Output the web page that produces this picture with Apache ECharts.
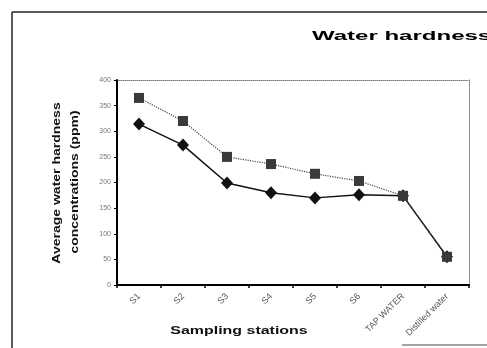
<!DOCTYPE html>
<html>
<head>
<meta charset="utf-8">
<script src="https://cdn.jsdelivr.net/npm/echarts@6/dist/echarts.min.js"></script>
<style>
  html, body { margin: 0; padding: 0; background: #fff; }
  #chart { width: 487px; height: 348px; }
</style>
</head>
<body>
<div id="chart"></div>
<script>
// Sampling stations along the x axis
const stations = ['S1', 'S2', 'S3', 'S4', 'S5', 'S6', 'TAP WATER', 'Distilled water'];
// Average hardness (ppm), two measurement series
const seriesSquare = [365, 320, 250, 236, 217, 203, 174, 55];
const seriesDiamond = [314, 273, 199, 180, 170, 176, 174, 55];
// Value axis range
const yMin = 0, yMax = 400, yStep = 50;

const FONT = '"Liberation Sans", Arial, sans-serif';
const chart = echarts.init(document.getElementById('chart'), null, { renderer: 'canvas' });

// dotted frame on the top and right sides of the plot area
const frameLine = { show: true, onZero: false, lineStyle: { color: '#777', width: 1, type: 'dotted' } };

chart.setOption({
  animation: false,
  backgroundColor: '#fff',
  grid: { left: 117, top: 80, right: 18, bottom: 63 },
  xAxis: [
    {
      type: 'category',
      data: stations,
      boundaryGap: true,
      axisLine: { lineStyle: { color: '#000', width: 2 } },
      axisTick: { show: true, length: 3, lineStyle: { color: '#000', width: 1.5 } },
      axisLabel: { rotate: 45, fontSize: 9, color: '#555', fontFamily: FONT, margin: 10, interval: 0 },
      splitLine: { show: false },
      z: 3
    },
    {
      type: 'category',
      data: stations,
      position: 'top',
      axisLine: frameLine,
      axisTick: { show: false },
      axisLabel: { show: false }
    }
  ],
  yAxis: [
    {
      type: 'value',
      min: yMin, max: yMax, interval: yStep,
      axisLine: { show: true, lineStyle: { color: '#000', width: 2 } },
      axisTick: { show: true, length: 3, lineStyle: { color: '#000', width: 1 } },
      axisLabel: { fontSize: 7, color: '#777', fontFamily: FONT, margin: 6 },
      splitLine: { show: false },
      z: 3
    },
    {
      type: 'value',
      min: yMin, max: yMax, interval: yStep,
      position: 'right',
      axisLine: frameLine,
      axisTick: { show: false },
      axisLabel: { show: false },
      splitLine: { show: false }
    }
  ],
  series: [
    {
      name: 'diamond',
      type: 'line',
      data: seriesDiamond,
      symbol: 'diamond',
      symbolSize: [12, 13],
      itemStyle: { color: '#111' },
      lineStyle: { color: '#111', width: 1.5, type: 'solid' },
      z: 2
    },
    {
      name: 'square',
      type: 'line',
      data: seriesSquare,
      symbol: 'rect',
      symbolSize: 10,
      itemStyle: { color: '#3a3a3a' },
      lineStyle: { color: '#444', width: 1.2, type: 'dotted' },
      z: 3
    }
  ],
  graphic: [
    // outer frame
    { type: 'line', shape: { x1: 12, y1: 12, x2: 487, y2: 12 }, style: { stroke: '#222', lineWidth: 1.5 } },
    { type: 'line', shape: { x1: 12, y1: 12, x2: 12, y2: 348 }, style: { stroke: '#222', lineWidth: 1.5 } },
    { type: 'line', shape: { x1: 402, y1: 345, x2: 487, y2: 345 }, style: { stroke: '#444', lineWidth: 1 } },
    // chart title
    { type: 'text', x: 312, y: 37, scaleX: 2.0, style: { text: 'Water hardness', font: 'bold 12px ' + FONT, fill: '#000', textAlign: 'left', textVerticalAlign: 'middle' } },
    // axis titles
    { type: 'text', x: 239, y: 331, scaleX: 1.45, style: { text: 'Sampling stations', font: 'bold 11px ' + FONT, fill: '#111', textAlign: 'center', textVerticalAlign: 'middle' } },
    { type: 'text', x: 57, y: 183, rotation: Math.PI / 2, scaleX: 1.4, style: { text: 'Average water hardness', font: 'bold 10px ' + FONT, fill: '#111', textAlign: 'center', textVerticalAlign: 'middle' } },
    { type: 'text', x: 75, y: 182, rotation: Math.PI / 2, scaleX: 1.4, style: { text: 'concentrations (ppm)', font: 'bold 10px ' + FONT, fill: '#111', textAlign: 'center', textVerticalAlign: 'middle' } }
  ]
});
</script>
</body>
</html>
